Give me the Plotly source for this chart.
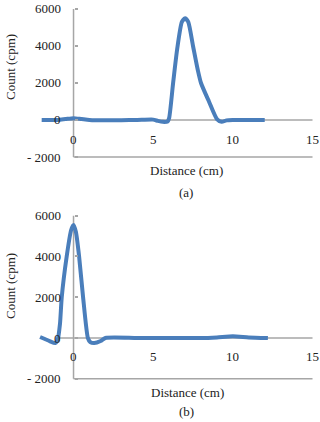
import plotly.graph_objects as go

# Panel (a)
xa = [-2, -1, -0.5, 0, 0.5, 1, 2, 3, 4, 5, 5.3, 5.6, 5.9, 6.0, 6.25, 6.5, 6.8, 7.0, 7.2, 7.5, 7.8, 8.0, 8.5, 9.0, 9.3, 9.6, 10, 11, 12]
ya = [0, 0, 50, 100, 50, 0, -20, -10, 0, 20, -50, -100, -80, 100, 2000, 3800, 5300, 5500, 5300, 4000, 2700, 2000, 1000, 50, -100, -20, 0, 0, 0]

# Panel (b)
xb = [-2.1, -1.8, -1.5, -1.15, -1.0, -0.85, -0.74, -0.43, -0.15, 0, 0.15, 0.35, 0.6, 0.9, 1.05, 1.3, 1.7, 2.0, 4, 6, 8, 9, 10, 11, 12.2]
yb = [50, -50, -150, -250, -100, 700, 2000, 4000, 5300, 5550, 5200, 4000, 2000, 0, -200, -250, -150, 0, 0, 0, 0, 30, 80, 30, 0]

x_ticks = [0, 5, 10, 15]
y_ticks = [-2000, 0, 2000, 4000, 6000]
y_ticktext = ["- 2000", "0", "2000", "4000", "6000"]

W, H = 320, 422
FONT = "Liberation Serif, Times New Roman, serif"
TXT = "#222222"
AX = "#a6a6a6"
CURVE = "#4a7ebb"

fig = go.Figure()
fig.add_trace(go.Scatter(x=xa, y=ya, mode="lines", line=dict(color=CURVE, width=4, shape="spline", smoothing=0.6),
                         xaxis="x", yaxis="y", showlegend=False))
fig.add_trace(go.Scatter(x=xb, y=yb, mode="lines", line=dict(color=CURVE, width=4, shape="spline", smoothing=0.6),
                         xaxis="x2", yaxis="y2", showlegend=False))

xdom = [33.7 / W, 315.7 / W]
xrng = [-2.5, 15.2]
ypos = 73.5 / W

def xax(pos):
    return dict(domain=xdom, range=xrng, anchor="free", position=pos, showline=False, showgrid=False,
                zeroline=False, tickvals=x_ticks, ticks="", showticklabels=False)

def yax(dom):
    return dict(domain=dom, range=[-2100, 6300], anchor="free", position=ypos, showline=False, showgrid=False,
                zeroline=False, tickvals=y_ticks, ticks="inside", ticklen=3, tickcolor=AX, tickwidth=1.5,
                showticklabels=False)

top_dom = [1 - 158.85 / H, 1 - 3.45 / H]
bot_dom = [1 - 380.8 / H, 1 - 209.6 / H]

shapes = []
for xr, yr in (("x", "y"), ("x2", "y2")):
    shapes.append(dict(type="line", xref=xr, yref=yr, x0=-1.05, x1=15, y0=0, y1=0, line=dict(color=AX, width=1.5), layer="below"))
    shapes.append(dict(type="line", xref=xr, yref=yr, x0=0, x1=15, y0=-2000, y1=-2000, line=dict(color=AX, width=1.5), layer="below"))
    shapes.append(dict(type="line", xref=xr, yref=yr, x0=0, x1=0, y0=-2000, y1=6000, line=dict(color=AX, width=1.5), layer="below"))

def ann(text, px, py, angle=0):
    return dict(text=text, x=px / W, y=1 - py / H, xref="paper", yref="paper", showarrow=False,
                textangle=angle, xanchor="center", yanchor="middle", font=dict(family=FONT, size=13, color=TXT))

annotations = [
    ann("Count (cpm)", 10, 67, -90),
    ann("Distance (cm)", 186, 170),
    ann("(a)", 186, 192),
    ann("Count (cpm)", 10, 286, -90),
    ann("Distance (cm)", 187, 392),
    ann("(b)", 186, 411),
]

# tick labels placed through the axes' own scales
for xr, yr, label_py in (("x", "y", 139), ("x2", "y2", 356)):
    for t in x_ticks:
        annotations.append(dict(text=str(t), x=t, y=1 - label_py / H, xref=xr, yref="paper", showarrow=False,
                                xanchor="center", yanchor="middle", font=dict(family=FONT, size=13, color=TXT)))
    for v, txt in zip(y_ticks, y_ticktext):
        annotations.append(dict(text=txt, x=-0.65, y=v, xref=xr, yref=yr, showarrow=False,
                                xanchor="right", yanchor="middle", font=dict(family=FONT, size=13, color=TXT)))

fig.update_layout(
    width=W, height=H, margin=dict(l=0, r=0, t=0, b=0),
    paper_bgcolor="white", plot_bgcolor="white",
    xaxis=xax(1 - 120 / H), yaxis=yax(top_dom),
    xaxis2=xax(1 - 338 / H), yaxis2=yax(bot_dom),
    shapes=shapes, annotations=annotations,
)

fig.write_html("out.html")
